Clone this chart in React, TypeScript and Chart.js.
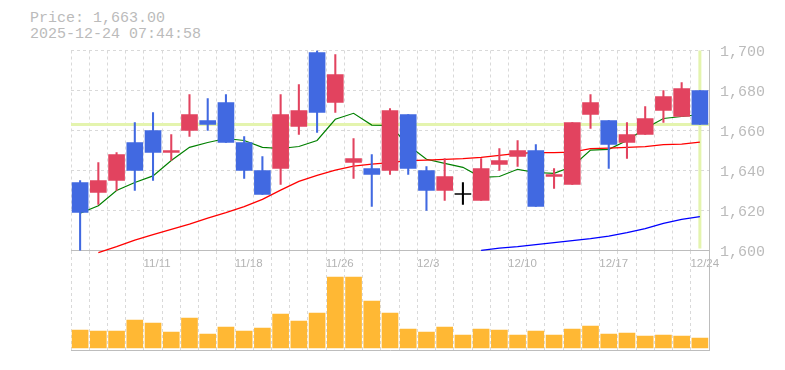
import React, { useEffect, useRef } from 'react';
import { Chart, registerables } from 'chart.js';

Chart.register(...registerables);

// ---- data ----
const dates = [
  '11/5', '11/6', '11/7', '11/10', '11/11', '11/12', '11/13', '11/14', '11/17', '11/18',
  '11/19', '11/20', '11/21', '11/25', '11/26', '11/27', '11/28', '12/1', '12/2', '12/3',
  '12/4', '12/5', '12/8', '12/9', '12/10', '12/11', '12/12', '12/15', '12/16', '12/17',
  '12/18', '12/19', '12/22', '12/23', '12/24',
];
const tickDates = ['11/11', '11/18', '11/26', '12/3', '12/10', '12/17', '12/24'];

const openP = [1634, 1629, 1635, 1654, 1660, 1649, 1660, 1665, 1674, 1654, 1640, 1641, 1662, 1699, 1674, 1644, 1641, 1640, 1668, 1640, 1630, 1628, 1625, 1643, 1647, 1650, 1637, 1633, 1668, 1665, 1654, 1658, 1670, 1667, 1680];
const highP = [1635, 1644, 1649, 1664, 1669, 1658, 1678, 1676, 1678, 1657, 1647, 1678, 1683, 1700, 1698, 1656, 1648, 1671, 1668, 1642, 1646, 1634, 1646, 1651, 1655, 1653, 1641, 1664, 1678, 1665, 1664, 1672, 1680, 1684, 1680];
const lowP = [1599, 1623, 1630, 1630, 1635, 1645, 1657, 1660, 1654, 1636, 1628, 1633, 1658, 1659, 1669, 1636, 1622, 1638, 1638, 1620, 1625, 1623, 1625, 1640, 1642, 1622, 1631, 1633, 1661, 1641, 1646, 1658, 1664, 1667, 1663];
const closeP = [1619, 1635, 1648, 1640, 1649, 1650, 1668, 1663, 1654, 1640, 1628, 1668, 1670, 1669, 1688, 1646, 1638, 1670, 1641, 1630, 1637, 1628, 1641, 1645, 1650, 1622, 1638, 1664, 1674, 1653, 1658, 1666, 1677, 1681, 1663];

const volume = [18, 17, 17, 28, 25, 16, 30, 14, 21, 17, 20, 34, 27, 35, 71, 71, 47, 35, 19, 16, 21, 13, 19, 18, 13, 17, 13, 19, 22, 14, 15, 12, 13, 12, 10];

const ma5 = [1618.6, 1622.4, 1630, 1634, 1637.3, 1645, 1651.6, 1654, 1656, 1655, 1651.6, 1651, 1652, 1655, 1665.6, 1668.6, 1662.7, 1662.6, 1652.6, 1645.6, 1643.6, 1641.6, 1636.6, 1637, 1640.6, 1639, 1638.6, 1642, 1650.2, 1650.6, 1655, 1661, 1666, 1667, 1668];
const ma25 = [null, 1598.9, 1601.9, 1605.2, 1607.9, 1610.6, 1613.2, 1616.2, 1618.9, 1621.9, 1625.6, 1630.2, 1634.6, 1637.6, 1640.2, 1642.2, 1643.2, 1643.9, 1644.9, 1645.2, 1645.6, 1645.9, 1646.6, 1647.6, 1648.6, 1648.9, 1648.9, 1649.2, 1650.9, 1651.2, 1651.6, 1651.9, 1652.9, 1653.2, 1654.2];
const ma75 = [null, null, null, null, null, null, null, null, null, null, null, null, null, null, null, null, null, null, null, null, null, null, 1600.1, 1601.2, 1601.9, 1602.9, 1603.9, 1604.9, 1605.9, 1607.2, 1608.9, 1610.9, 1613.6, 1615.6, 1616.9];

const currentPrice = 1663;
const headerLines = ['Price: 1,663.00', '2025-12-24 07:44:58'];
const priceMin = 1600;
const priceMax = 1700;

// ---- styles ----
const UP = '#e2435f';
const DOWN = '#4169e1';
const FLAT = '#000000';
const GRID = '#d9d9d9';
const AXIS = '#bdbdbd';
const TEXT = '#bbbbbb';
const MONO = '"Liberation Mono", "DejaVu Sans Mono", monospace';
const SANS = '"Liberation Sans", Arial, sans-serif';
const PLOT_LEFT = 71;
const RIGHT_AXIS_W = 76;

const candleColors = openP.map((o, i) => (closeP[i] > o ? UP : closeP[i] < o ? DOWN : FLAT));

const markerPlugin = {
  id: 'currentMarker',
  beforeDatasetsDraw(chart: any) {
    const { ctx, chartArea, scales } = chart;
    const y = scales.y.getPixelForValue(currentPrice);
    const x = scales.x.getPixelForValue(dates.length - 1);
    ctx.save();
    ctx.strokeStyle = '#e4f4ae';
    ctx.lineWidth = 3;
    ctx.beginPath();
    ctx.moveTo(chartArea.left, y);
    ctx.lineTo(chartArea.right, y);
    ctx.moveTo(x, chartArea.top);
    ctx.lineTo(x, chartArea.bottom - 2);
    ctx.stroke();
    ctx.restore();
  },
};

export default function App() {
  const priceRef = useRef<HTMLCanvasElement>(null);
  const volRef = useRef<HTMLCanvasElement>(null);

  useEffect(() => {
    document.body.style.margin = '0';
    const priceChart = new Chart(priceRef.current!, {
      type: 'bar',
      data: {
        labels: dates,
        datasets: [
          {
            type: 'line',
            data: ma5,
            borderColor: '#008000',
            borderWidth: 1.2,
            pointRadius: 0,
            order: 5,
          } as any,
          {
            type: 'line',
            data: ma25,
            borderColor: '#ff0000',
            borderWidth: 1.3,
            pointRadius: 0,
            clip: false,
            order: 4,
          } as any,
          {
            type: 'line',
            data: ma75,
            borderColor: '#0000ff',
            borderWidth: 1.3,
            pointRadius: 0,
            clip: false,
            order: 3,
          } as any,
          {
            type: 'bar',
            data: lowP.map((l, i) => [l, highP[i]]),
            backgroundColor: candleColors,
            barThickness: 1.4,
            grouped: false,
            order: 1,
          } as any,
          {
            type: 'bar',
            data: openP.map((o, i) => [o, closeP[i]]),
            backgroundColor: candleColors,
            barThickness: 16,
            minBarLength: 1,
            grouped: false,
            order: 0,
          } as any,
        ],
      },
      options: {
        animation: false,
        responsive: false,
        events: [],
        layout: { padding: { top: 50.5, left: PLOT_LEFT, right: 0, bottom: 0 } },
        plugins: { legend: { display: false }, tooltip: { enabled: false } },
        scales: {
          x: {
            type: 'category',
            offset: true,
            grid: { offset: true, color: GRID, lineWidth: 1, drawTicks: false },
            border: { display: true, color: AXIS, dash: [3, 3] },
            ticks: {
              autoSkip: false,
              maxRotation: 0,
              minRotation: 0,
              align: 'start',
              labelOffset: -9.5,
              padding: 6,
              color: '#b3b3b3',
              font: { family: SANS, size: 11.5 },
              callback: (_v: any, i: number) => (tickDates.includes(dates[i]) ? dates[i] : ''),
            },
            afterFit: (s: any) => {
              s.height = 29.5;
            },
          },
          y: {
            position: 'right',
            min: priceMin,
            max: priceMax,
            grid: { color: GRID, lineWidth: 1, drawTicks: false },
            border: { display: true, color: AXIS, dash: [3, 3] },
            ticks: {
              stepSize: 10,
              padding: 11,
              labelOffset: 2,
              color: TEXT,
              font: { family: MONO, size: 15 },
              callback: (v: any) => (Number(v) % 20 === 0 ? Number(v).toLocaleString('en-US') : ''),
            },
            afterFit: (s: any) => {
              s.width = RIGHT_AXIS_W;
            },
          },
        },
      } as any,
      plugins: [markerPlugin],
    });

    const volChart = new Chart(volRef.current!, {
      type: 'bar',
      data: {
        labels: dates,
        datasets: [
          {
            data: volume,
            backgroundColor: '#ffb834',
            barThickness: 16,
          },
        ],
      },
      options: {
        animation: false,
        responsive: false,
        events: [],
        layout: { padding: { top: 251, left: PLOT_LEFT, right: 0, bottom: 0 } },
        plugins: { legend: { display: false }, tooltip: { enabled: false } },
        scales: {
          x: {
            type: 'category',
            offset: true,
            grid: { offset: true, color: GRID, lineWidth: 1, drawTicks: false },
            border: { display: true, color: AXIS, dash: [3, 3] },
            ticks: { display: false },
            afterFit: (s: any) => {
              s.height = 19.5;
            },
          },
          y: {
            position: 'right',
            min: -2.5,
            max: 97,
            grid: { display: false, drawTicks: false },
            border: { display: true, color: AXIS },
            ticks: { display: false },
            afterFit: (s: any) => {
              s.width = RIGHT_AXIS_W;
            },
          },
        },
      } as any,
    });

    return () => {
      priceChart.destroy();
      volChart.destroy();
    };
  }, []);

  return (
    <div style={{ position: 'relative', width: 785, height: 370, background: '#fff', overflow: 'hidden' }}>
      <div
        style={{
          position: 'absolute',
          left: 30,
          top: 11,
          font: `15px ${MONO}`,
          lineHeight: '15.5px',
          color: TEXT,
          whiteSpace: 'pre',
        }}
      >
        {headerLines.map((l) => (
          <div key={l}>{l}</div>
        ))}
      </div>
      <canvas ref={priceRef} width={785} height={280} style={{ position: 'absolute', left: 0, top: 0 }} />
      <canvas ref={volRef} width={785} height={370} style={{ position: 'absolute', left: 0, top: 0, pointerEvents: 'none' }} />
    </div>
  );
}
